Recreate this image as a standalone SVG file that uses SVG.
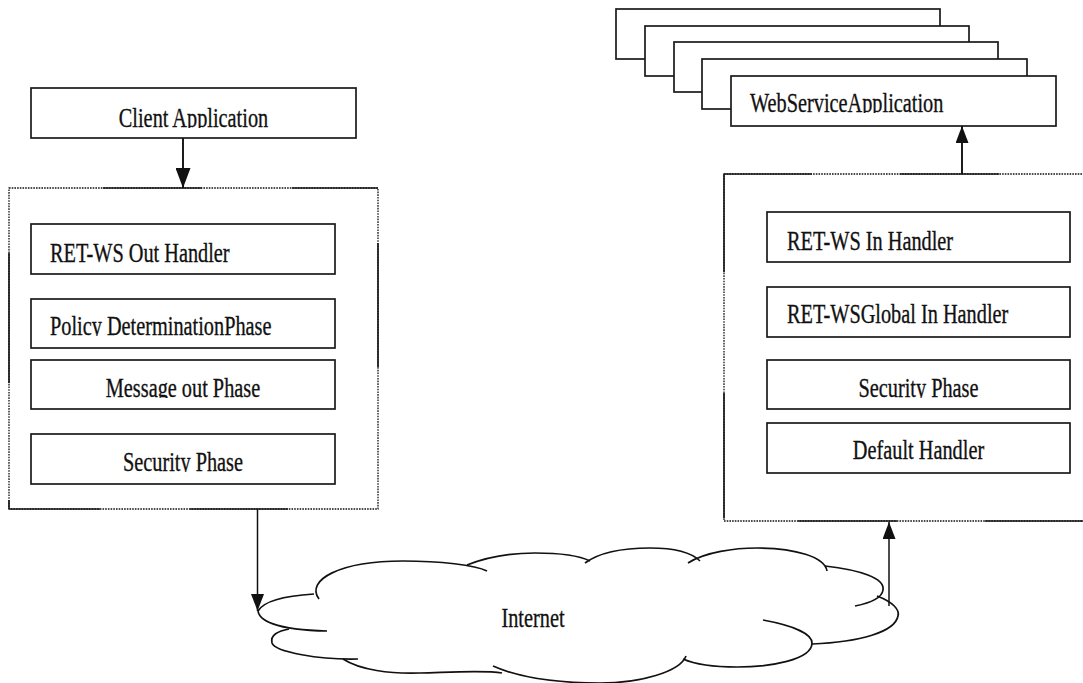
<svg xmlns="http://www.w3.org/2000/svg" width="1083" height="683" viewBox="0 0 1083 683">
<style>
.box{fill:#fff;stroke:#1a1a1a;stroke-width:1.7}
.dot{fill:none;stroke:#111;stroke-width:1.3;stroke-dasharray:1.6 1.1}
.sol{fill:none;stroke:#1a1a1a;stroke-width:1.7}
.t{font-family:"Liberation Serif","Times New Roman",serif;font-size:20.3px;fill:#111;stroke:#111;stroke-width:0.25}
.m{text-anchor:middle}
.conn{fill:none;stroke:#111;stroke-width:1.9}
.cl{fill:none;stroke:#111;stroke-width:1.7}
</style>
<defs>
<marker id="ah" markerUnits="userSpaceOnUse" markerWidth="20" markerHeight="15" refX="20" refY="7.5" orient="auto" viewBox="0 0 20 15">
<path d="M0,0 L20,7.5 L0,15 z" fill="#111"/>
</marker>
<marker id="ahs" markerUnits="userSpaceOnUse" markerWidth="17" markerHeight="13" refX="17" refY="6.5" orient="auto" viewBox="0 0 17 13">
<path d="M0,0 L17,6.5 L0,13 z" fill="#111"/>
</marker>
<clipPath id="c1" clipPathUnits="userSpaceOnUse"><rect x="0" y="90" width="400" height="38"/></clipPath>
<clipPath id="c2" clipPathUnits="userSpaceOnUse"><rect x="0" y="300" width="400" height="36"/></clipPath>
<clipPath id="c3" clipPathUnits="userSpaceOnUse"><rect x="0" y="362" width="400" height="36"/></clipPath>
<clipPath id="c4" clipPathUnits="userSpaceOnUse"><rect x="0" y="436" width="400" height="36"/></clipPath>
<clipPath id="c5" clipPathUnits="userSpaceOnUse"><rect x="700" y="78" width="383" height="35"/></clipPath>
<clipPath id="c6" clipPathUnits="userSpaceOnUse"><rect x="700" y="362" width="383" height="36"/></clipPath>
</defs>

<g id="client-app">
<rect class="box" x="31" y="88" width="325" height="50"/>
<g clip-path="url(#c1)"><text class="t m" transform="translate(193.5,127) scale(1,1.35)">Client Application</text></g>
</g>

<g id="client-container">
<rect class="dot" x="9" y="188" width="369" height="321"/>
<path class="sol" d="M103,188 H202 M292,188 H378 M378,243 V367 M9,253 V383 M9,500 V509 M9,509 H100 M190,509 H288"/>
</g>

<g id="out-handler">
<rect class="box" x="31" y="224" width="304" height="50"/>
<text class="t" transform="translate(50,262) scale(1,1.35)">RET-WS Out Handler</text>
</g>
<g id="policy-phase">
<rect class="box" x="31" y="299" width="304" height="49"/>
<g clip-path="url(#c2)"><text class="t" transform="translate(50,335) scale(1,1.35)">Policy DeterminationPhase</text></g>
</g>
<g id="message-out-phase">
<rect class="box" x="31" y="360" width="304" height="49"/>
<g clip-path="url(#c3)"><text class="t m" transform="translate(183,397) scale(1,1.35)">Message out Phase</text></g>
</g>
<g id="client-security-phase">
<rect class="box" x="31" y="434" width="304" height="50"/>
<g clip-path="url(#c4)"><text class="t m" transform="translate(183,471) scale(1,1.35)">Security Phase</text></g>
</g>

<g id="webservice-stack">
<rect class="box" x="616" y="9" width="324" height="50"/>
<rect class="box" x="645" y="26" width="324" height="50"/>
<rect class="box" x="674" y="42" width="324" height="50"/>
<rect class="box" x="702" y="59" width="325" height="50"/>
<rect class="box" x="731" y="76" width="325" height="50"/>
<g clip-path="url(#c5)"><text class="t" transform="translate(750,112) scale(1,1.35)">WebServiceApplication</text></g>
</g>

<g id="server-container">
<rect class="dot" x="724" y="174" width="370" height="347"/>
<path class="sol" d="M724,174 H812 M900,174 H999 M724,174 V272 M724,393 V518 M798,521 H897 M985,521 H1083"/>
</g>

<g id="in-handler">
<rect class="box" x="767" y="212" width="303" height="50"/>
<text class="t" transform="translate(787,250) scale(1,1.35)">RET-WS In Handler</text>
</g>
<g id="global-in-handler">
<rect class="box" x="767" y="287" width="303" height="50"/>
<text class="t" transform="translate(787,323) scale(1,1.35)">RET-WSGlobal In Handler</text>
</g>
<g id="server-security-phase">
<rect class="box" x="767" y="360" width="303" height="49"/>
<g clip-path="url(#c6)"><text class="t m" transform="translate(918.5,397) scale(1,1.35)">Security Phase</text></g>
</g>
<g id="default-handler">
<rect class="box" x="767" y="423" width="303" height="50"/>
<text class="t m" transform="translate(918.5,459) scale(1,1.35)">Default Handler</text>
</g>

<g id="internet">
<path class="cl" d="M258,611 Q266,597 314,594"/>
<path class="cl" d="M319,599 C305,580 340,561 403,561 C440,561 475,565 487,571"/>
<path class="cl" d="M467,565 C490,556 515,553 535,553 C560,553 580,556 590,561"/>
<path class="cl" d="M585,563 C600,552 625,548 650,548 C675,548 692,553 700,561"/>
<path class="cl" d="M688,563 C705,552 735,548 757,548 C795,548 825,557 827,571"/>
<path class="cl" d="M825,566 C860,570 885,578 883,590 C882,598 870,603 855,606"/>
<path class="cl" d="M877,596 C893,602 900,610 898,616 C895,632 860,642 812,644"/>
<path class="cl" d="M763,620 C790,625 812,633 812,643 C812,660 770,667 737,667 C710,667 692,663 683,659"/>
<path class="cl" d="M686,656 C680,672 640,683 600,683 C560,683 520,678 493,666"/>
<path class="cl" d="M343,659 C360,670 390,674 420,673 C455,672 485,670 502,673"/>
<path class="cl" d="M358,659 C320,660 275,652 272,643 C270,635 278,631 289,629"/>
<path class="cl" d="M258,610 C258,620 275,630 327,631"/>
<text class="t m" transform="translate(533,627) scale(1,1.35)">Internet</text>
</g>

<g id="connectors">
<path class="conn" d="M183,138 V188" marker-end="url(#ah)"/>
<path class="conn" d="M962,174 V126" marker-end="url(#ahs)"/>
<path class="conn" style="stroke-width:1.5" d="M257.5,509 V611" marker-end="url(#ahs)"/>
<path class="conn" style="stroke-width:1.5" d="M889,606 V522" marker-end="url(#ahs)"/>
</g>
</svg>
